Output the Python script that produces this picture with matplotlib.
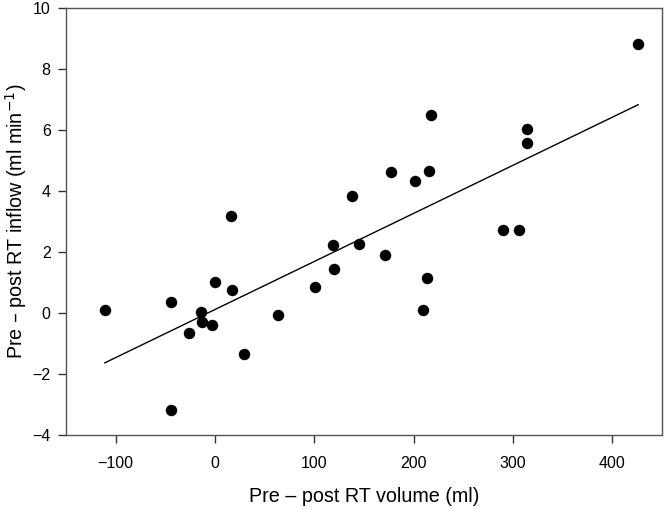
import matplotlib
matplotlib.use("Agg")
import matplotlib.pyplot as plt
import numpy as np

plt.rcParams['font.family'] = ['Liberation Sans', 'DejaVu Sans']

volume = [-111, -44.5, -44.5, -26, -14, -13, -3, 0, 16, 17, 29, 63, 100.5,
          119, 120, 138, 145, 171.5, 177, 201.5, 209.6, 213, 215, 217.7,
          289.6, 305.8, 314, 314, 426]
inflow = [0.11, 0.35, -3.19, -0.64, 0.03, -0.28, -0.39, 1.02, 3.17, 0.75,
          -1.34, -0.07, 0.85, 2.22, 1.45, 3.85, 2.25, 1.89, 4.62, 4.33,
          0.11, 1.14, 4.66, 6.49, 2.71, 2.72, 6.03, 5.59, 8.83]

xticks = [-100, 0, 100, 200, 300, 400]
yticks = [-4, -2, 0, 2, 4, 6, 8, 10]

x = np.array(volume)
y = np.array(inflow)
slope, intercept = np.polyfit(x, y, 1)
xl = np.array([x.min(), x.max()])

fig = plt.figure(figsize=(6.64, 5.09), dpi=100)
ax = fig.add_axes([0.0994, 0.1454, 0.8976, 0.8386])
ax.plot(xl, slope * xl + intercept, color='black', lw=1.0)
ax.scatter(x, y, s=68, color='black', zorder=3, linewidths=0)

ax.set_xlim(-150, 450)
ax.set_ylim(-4, 10)
ax.set_xticks(xticks)
ax.set_yticks(yticks)
ax.set_xticklabels([f"{t}".replace('-', '\u2212') for t in xticks])
ax.set_yticklabels([f"{t}".replace('-', '\u2212') for t in yticks])
ax.tick_params(direction='out', length=6, width=1, labelsize=11.5, color='#333333')
ax.tick_params(axis='x', pad=9)
ax.tick_params(axis='y', pad=5)
for s in ax.spines.values():
    s.set_color('#555555')
    s.set_linewidth(1.0)

ax.set_xlabel("Pre \u2013 post RT volume (ml)", fontsize=14.2, labelpad=12)
ax.set_ylabel("Pre \u2013 post RT inflow (ml min$^{\u22121}$)", fontsize=14.2,
              va='center')
ax.yaxis.set_label_coords(-0.084, 0.5)

fig.savefig("out.png", dpi=100)
